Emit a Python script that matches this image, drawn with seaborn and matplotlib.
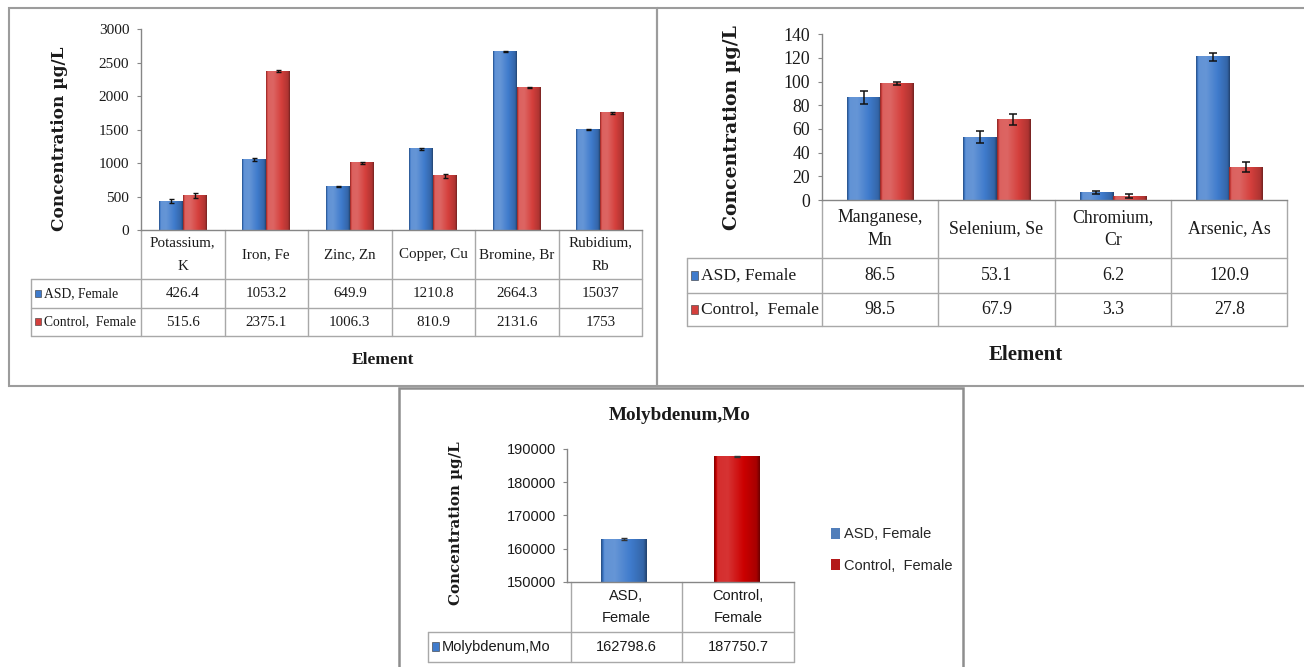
import numpy as np
import pandas as pd
import matplotlib
matplotlib.use("Agg")
import matplotlib.pyplot as plt
from matplotlib.patches import Rectangle
from matplotlib.colors import to_rgb
import seaborn as sns

# ---------------- data ----------------
series = ["ASD, Female", "Control,  Female"]

elements_a = ["Potassium,\nK", "Iron, Fe", "Zinc, Zn", "Copper, Cu", "Bromine, Br", "Rubidium,\nRb"]
asd_a = [426.4, 1053.2, 649.9, 1210.8, 2664.3, 1503.7]
ctrl_a = [515.6, 2375.1, 1006.3, 810.9, 2131.6, 1753.0]
asd_a_err = [30, 20, 12, 20, 10, 10]
ctrl_a_err = [30, 15, 15, 30, 10, 15]
asd_a_text = ["426.4", "1053.2", "649.9", "1210.8", "2664.3", "15037"]
ctrl_a_text = ["515.6", "2375.1", "1006.3", "810.9", "2131.6", "1753"]
ticks_a = [0, 500, 1000, 1500, 2000, 2500, 3000]

elements_b = ["Manganese,\nMn", "Selenium, Se", "Chromium,\nCr", "Arsenic, As"]
asd_b = [86.5, 53.1, 6.2, 120.9]
ctrl_b = [98.5, 67.9, 3.3, 27.8]
asd_b_err = [5.5, 5.0, 1.5, 3.5]
ctrl_b_err = [1.5, 4.5, 1.5, 4.0]
ticks_b = [0, 20, 40, 60, 80, 100, 120, 140]

groups_c = ["ASD,\nFemale", "Control,\nFemale"]
mo_c = [162798.6, 187750.7]
mo_c_err = [250, 250]
row_c = "Molybdenum,Mo"
ticks_c = [150000, 160000, 170000, 180000, 190000]

BLUE = "#3f7bcc"
RED = "#d43f3c"
RED_MO = "#cc0000"

# ---------------- figure ----------------
sns.set_theme(style="white")
plt.rcParams["font.family"] = ["Liberation Serif", "DejaVu Serif"]

W, H = 1304, 667
fig = plt.figure(figsize=(W / 100, H / 100), dpi=100)
fig.patch.set_facecolor("white")

# overlay in pixel coordinates for frames, tables and labels
ov = fig.add_axes([0, 0, 1, 1], zorder=0)
ov.set_xlim(0, W)
ov.set_ylim(H, 0)
ov.axis("off")

GRID = "#a8a8a8"
AXC = "#868686"
TXT = "#1a1a1a"


def add_axes_px(x0, y0, x1, y1):
    ax = fig.add_axes([x0 / W, 1 - y1 / H, (x1 - x0) / W, (y1 - y0) / H], zorder=2)
    ax.set_facecolor("none")
    return ax


def shade(ax, patches, color):
    base = np.array(to_rgb(color))
    t = np.linspace(0, 1, 64)
    f = np.interp(t, [0, 0.07, 0.3, 0.65, 0.93, 1], [-0.35, 0.18, 0.2, 0.0, -0.18, -0.45])
    f = f[:, None]
    rgb = np.where(f >= 0, base + (1 - base) * f, base * (1 + f))
    img = np.clip(rgb, 0, 1)[None, :, :]
    for p in patches:
        x, y, w, h = p.get_x(), p.get_y(), p.get_width(), p.get_height()
        ax.imshow(img, extent=[x, x + w, y, y + h], aspect="auto",
                  interpolation="bilinear", zorder=p.get_zorder() + 0.05)


def style_axes(ax, ticks, fs, family, pad):
    sns.despine(ax=ax, top=True, right=True)
    for s in ("left", "bottom"):
        ax.spines[s].set_color(AXC)
        ax.spines[s].set_linewidth(1.0)
    ax.set_yticks(ticks)
    ax.set_yticklabels([f"{v}" for v in ticks], fontsize=fs, family=family, color=TXT)
    ax.tick_params(axis="y", direction="out", length=3, width=0.8, color=AXC, pad=pad, left=True)
    ax.tick_params(axis="x", length=0, labelbottom=False)
    ax.set_xlabel("")
    ax.set_ylabel("")
    ax.grid(False)


def draw_table(x0, x1, n, y_axis, row_edges, leg_left, header, rows, colors,
               labels, fs, family, ls, key_w, key_gap, leg_fs, z=3):
    cols = np.linspace(x0, x1, n + 1)
    bottom = row_edges[-1]
    for cx in cols:
        ov.plot([cx, cx], [y_axis, bottom], color=GRID, lw=1, zorder=z)
    ov.plot([leg_left, leg_left], [row_edges[0], bottom], color=GRID, lw=1, zorder=z)
    for ry in row_edges:
        ov.plot([leg_left, x1], [ry, ry], color=GRID, lw=1, zorder=z)
    hy = (y_axis + row_edges[0]) / 2
    for i, txt in enumerate(header):
        ov.text((cols[i] + cols[i + 1]) / 2, hy, txt, ha="center", va="center",
                fontsize=fs, family=family, linespacing=ls, multialignment="center",
                color=TXT, zorder=z)
    for r, vals in enumerate(rows):
        ry = (row_edges[r] + row_edges[r + 1]) / 2
        for i, txt in enumerate(vals):
            ov.text((cols[i] + cols[i + 1]) / 2, ry, txt, ha="center", va="center",
                    fontsize=fs, family=family, color=TXT, zorder=z)
        kx = leg_left + 4
        ov.add_patch(Rectangle((kx, ry - key_w / 2 - 0.5), key_w * 0.8, key_w,
                               facecolor=colors[r], edgecolor="#333333", lw=0.4, zorder=z))
        ov.text(kx + key_w * 0.8 + key_gap, ry, labels[r], ha="left", va="center",
                fontsize=leg_fs, family=family, color=TXT, zorder=z)


def frame(x0, y0, x1, y1, color):
    ov.add_patch(Rectangle((x0, y0), x1 - x0, y1 - y0, fill=False,
                           edgecolor=color, lw=1.5, clip_on=False))


frame(8.5, 7.5, 656.5, 386, "#9c9c9c")
frame(657, 8, 1310, 385.5, "#9c9c9c")
ov.add_patch(Rectangle((398.5, 388), 564.5, 290, facecolor="white",
                       edgecolor="#8e8e8e", lw=1.8, clip_on=False, zorder=1))


def grouped(ax, cats, a, c, ae, ce, width, cap, elw):
    df = pd.DataFrame({
        "element": cats * 2,
        "value": list(a) + list(c),
        "group": [series[0]] * len(cats) + [series[1]] * len(cats),
    })
    sns.barplot(data=df, x="element", y="value", hue="group", order=cats,
                hue_order=series, palette=[BLUE, RED], width=width, errorbar=None,
                edgecolor="none", legend=False, ax=ax)
    for cont, col, err in zip(ax.containers, [BLUE, RED], [ae, ce]):
        shade(ax, cont.patches, col)
        xs = [p.get_x() + p.get_width() / 2 for p in cont.patches]
        hs = [p.get_height() for p in cont.patches]
        ax.errorbar(xs, hs, yerr=err, fmt="none", ecolor="#111111", elinewidth=elw,
                    capsize=cap, capthick=elw, zorder=5)


# ---------------- panel A ----------------
axA = add_axes_px(141, 29.3, 642, 230)
grouped(axA, elements_a, asd_a, ctrl_a, asd_a_err, ctrl_a_err, 0.57, 1.8, 1.0)
axA.set_xlim(-0.5, len(elements_a) - 0.5)
axA.set_ylim(0, 3000)
style_axes(axA, ticks_a, 11, "Liberation Serif", 5.5)
draw_table(141, 642, len(elements_a), 230, [279, 308, 336], 31, elements_a,
           [asd_a_text, ctrl_a_text], [BLUE, RED], series, 10.8, "Liberation Serif",
           2.0, 7, 3, 9.8)
ov.text(59, 139, "Concentration µg/L", rotation=90, ha="center", va="center",
        fontsize=12.2, fontweight="bold", family="DejaVu Serif", color=TXT)
ov.text(383, 360, "Element", ha="center", va="center", fontsize=12.5,
        fontweight="bold", family="Liberation Serif", color=TXT)

# ---------------- panel B ----------------
axB = add_axes_px(822, 34.3, 1287.4, 200)
grouped(axB, elements_b, asd_b, ctrl_b, asd_b_err, ctrl_b_err, 0.57, 3, 1.1)
axB.set_xlim(-0.5, len(elements_b) - 0.5)
axB.set_ylim(0, 140)
style_axes(axB, ticks_b, 12.8, "Liberation Serif", 5.5)
draw_table(822, 1287.4, len(elements_b), 200, [258, 293, 326], 687, elements_b,
           [[f"{v:.1f}" for v in asd_b], [f"{v:.1f}" for v in ctrl_b]],
           [BLUE, RED], series, 12.8, "Liberation Serif", 1.46, 9, 3, 12.6)
ov.text(731.6, 127.5, "Concentration µg/L", rotation=90, ha="center", va="center",
        fontsize=13.6, fontweight="bold", family="DejaVu Serif", color=TXT)
ov.text(1026, 355, "Element", ha="center", va="center", fontsize=15,
        fontweight="bold", family="Liberation Serif", color=TXT)

# ---------------- panel C ----------------
axC = add_axes_px(567, 449, 793.8, 581.7)
dfC = pd.DataFrame({"group": groups_c, "value": mo_c})
sns.barplot(data=dfC, x="group", y="value", hue="group", order=groups_c,
            hue_order=groups_c, palette=[BLUE, RED_MO], width=0.4, dodge=False,
            errorbar=None, edgecolor="none", legend=True, ax=axC)
for cont, col, err in zip(axC.containers, [BLUE, RED_MO], mo_c_err):
    shade(axC, cont.patches, col)
    for p in cont.patches:
        axC.errorbar(p.get_x() + p.get_width() / 2, p.get_height(), yerr=err,
                     fmt="none", ecolor="#333333", elinewidth=1, capsize=2.5, zorder=5)
axC.set_xlim(-0.5, 1.5)
axC.set_ylim(150000, 190000)
style_axes(axC, ticks_c, 10.5, "Liberation Sans", 4.5)
handles, _ = axC.get_legend_handles_labels()
axC.legend(handles, series, loc="center left", bbox_to_anchor=(818, 550),
           bbox_transform=ov.transData, frameon=False,
           prop={"family": "Liberation Sans", "size": 10.5},
           handlelength=0.6, handleheight=0.8, handletextpad=0.25, labelspacing=1.2)
draw_table(570.7, 793.8, 2, 581.7, [632, 661.7], 427.6, groups_c,
           [[f"{v:.1f}" for v in mo_c]], [BLUE], [row_c], 10.5, "Liberation Sans",
           1.75, 9, 3, 10.5)
ov.text(680, 415, "Molybdenum,Mo", ha="center", va="center", fontsize=13.8,
        fontweight="bold", family="Liberation Serif", color=TXT, zorder=3)
ov.text(456, 523.5, "Concentration µg/L", rotation=90, ha="center", va="center",
        fontsize=10.8, fontweight="bold", family="DejaVu Serif", color=TXT, zorder=3)

fig.savefig("out.png", dpi=100, facecolor="white")
